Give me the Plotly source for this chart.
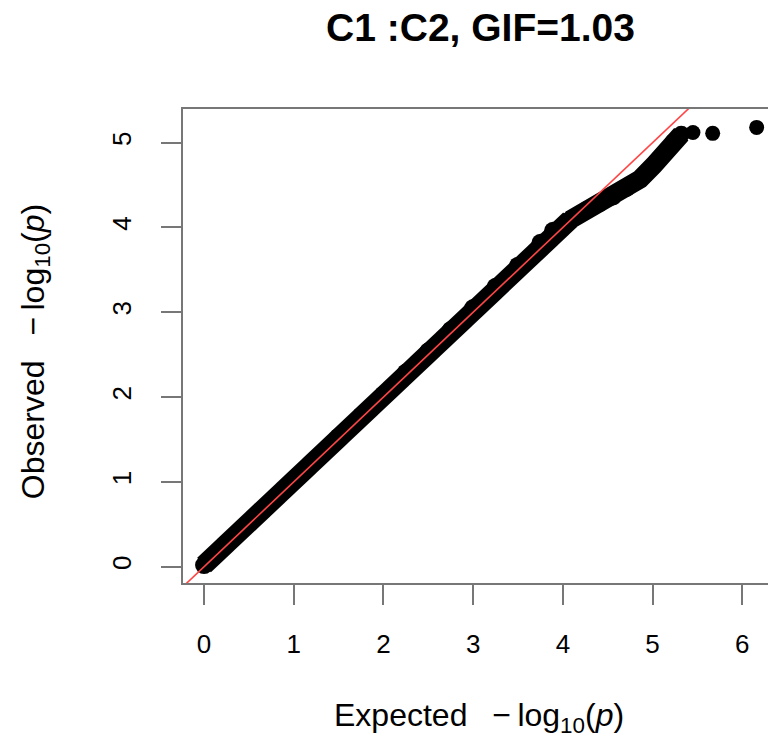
import plotly.graph_objects as go

# Main diagonal part of the QQ band (expected, observed)
expected_band = [0.00, 0.25, 0.50, 0.75, 1.00, 1.25, 1.50, 1.75, 2.00, 2.25, 2.50,
                 2.75, 3.00, 3.25, 3.50, 3.75, 3.89, 4.08]
observed_band = [0.02, 0.27, 0.52, 0.77, 1.02, 1.27, 1.53, 1.78, 2.03, 2.29, 2.54,
                 2.79, 3.05, 3.30, 3.55, 3.82, 3.96, 4.09]
# Tail of the band, bending below the diagonal
expected_tail = [4.08, 4.26, 4.41, 4.56, 4.71, 4.86, 5.01, 5.12, 5.23, 5.32]
observed_tail = [4.09, 4.21, 4.28, 4.36, 4.46, 4.57, 4.73, 4.86, 5.01, 5.10]
# Isolated top points
expected_top = [5.45, 5.67, 6.16]
observed_top = [5.12, 5.11, 5.18]

# reference y = x line endpoints
diag = [-0.5, 7.0]

x_ticks = [0, 1, 2, 3, 4, 5, 6]
y_ticks = [0, 1, 2, 3, 4, 5]

title_text = "<b>C1 :C2, GIF=1.03</b>"
x_title = "Expected\u2002 \u2212\u2009log<sub>10</sub>(<i>p</i>)"
y_title = "Observed\u2002 \u2212\u2009log<sub>10</sub>(<i>p</i>)"

W, H = 768, 739
L, R, T, B = 183, 0, 108.5, 156
plot_w = W - L - R
plot_h = H - T - B

fig = go.Figure()
fig.add_trace(go.Scatter(
    x=expected_band, y=observed_band, mode="lines+markers",
    line=dict(color="black", width=20),
    marker=dict(color="black", size=18, line=dict(width=0)),
    hoverinfo="skip", showlegend=False))
fig.add_trace(go.Scatter(
    x=expected_tail, y=observed_tail, mode="lines+markers",
    line=dict(color="black", width=19),
    marker=dict(color="black", size=17, line=dict(width=0)),
    hoverinfo="skip", showlegend=False))
fig.add_trace(go.Scatter(
    x=expected_top, y=observed_top, mode="markers",
    marker=dict(color="black", size=15, line=dict(width=0)),
    hoverinfo="skip", showlegend=False))
fig.add_trace(go.Scatter(
    x=diag, y=diag, mode="lines",
    line=dict(color="#ff4545", width=1.6),
    hoverinfo="skip", showlegend=False))

font_family = "Liberation Sans, Arial, Helvetica, sans-serif"
axis_common = dict(
    showgrid=False, zeroline=False, showline=True, linecolor="#777777", linewidth=2,
    ticks="outside", ticklen=20, tickwidth=2, tickcolor="#777777",
    tickfont=dict(family=font_family, size=26, color="black"),
)

fig.update_layout(
    width=W, height=H,
    margin=dict(l=L, r=R, t=T, b=B, pad=0),
    paper_bgcolor="white", plot_bgcolor="white",
    title=dict(text=title_text, xref="container", yref="container",
               x=480.5 / W, y=1 - 27 / H, xanchor="center", yanchor="middle",
               font=dict(family=font_family, size=39, color="black")),
    xaxis=dict(range=[-0.235, -0.235 + plot_w / 89.7], tickvals=x_ticks,
               mirror=True, ticklabelstandoff=17, **axis_common),
    yaxis=dict(range=[-0.192, -0.192 + plot_h / 84.9], tickvals=y_ticks,
               tickangle=-90, ticklabelstandoff=20, **axis_common),
    annotations=[
        dict(text=x_title, xref="paper", yref="paper",
             x=(479 - L) / plot_w, y=(583 - 718) / plot_h,
             xanchor="center", yanchor="middle", showarrow=False,
             font=dict(family=font_family, size=32, color="black")),
        dict(text=y_title, xref="paper", yref="paper",
             x=(35 - L) / plot_w, y=(583 - 352) / plot_h, textangle=-90,
             xanchor="center", yanchor="middle", showarrow=False,
             font=dict(family=font_family, size=32, color="black")),
    ],
)

fig.write_html("out.html")
